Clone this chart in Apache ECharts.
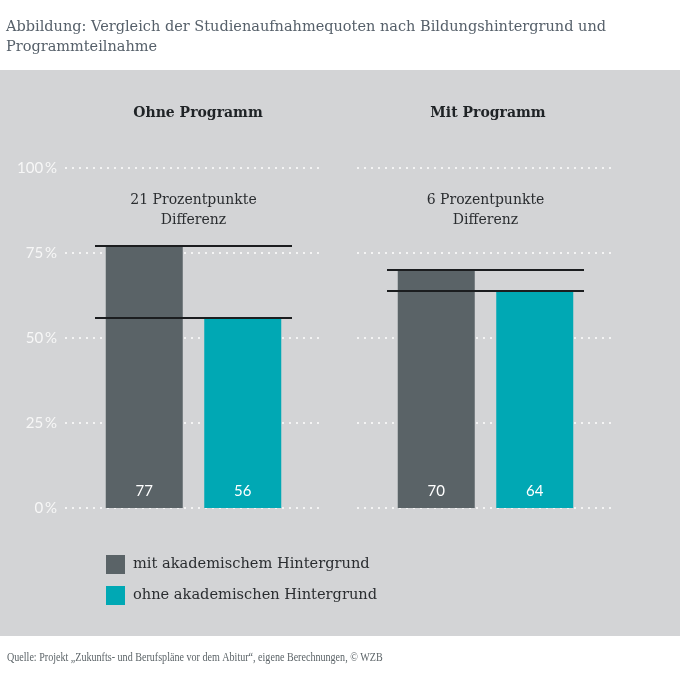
<!DOCTYPE html>
<html>
<head>
<meta charset="utf-8">
<script src="https://cdn.jsdelivr.net/npm/echarts@6/dist/echarts.min.js"></script>
<style>html,body{margin:0;padding:0;background:#fff}#c{width:680px;height:680px}</style>
</head>
<body>
<div id="c"></div>
<script>
const panels = ['Ohne Programm', 'Mit Programm'];
const categories = ['mit akademischem Hintergrund', 'ohne akademischen Hintergrund'];
const mitHintergrund = [77, 70];
const ohneHintergrund = [56, 64];
const yTickValues = [0, 25, 50, 75, 100];
const titleText = 'Abbildung: Vergleich der Studienaufnahmequoten nach Bildungshintergrund und\nProgrammteilnahme';
const sourceText = 'Quelle: Projekt \u201eZukunfts- und Berufspl\u00e4ne vor dem Abitur\u201c, eigene Berechnungen, \u00a9 WZB';

const colors = ['#5a6367', '#00a8b4'];
const serif = '"DejaVu Serif", serif';
const sans = 'Lato, "Open Sans", sans-serif';

const chart = echarts.init(document.getElementById('c'), null, {renderer: 'canvas'});

const layouts = [
  {gl: 65, gr: 680 - 323, bl: 95, br: 680 - 292, tx: 198},
  {gl: 357, gr: 680 - 613, bl: 387, br: 680 - 584, tx: 488}
];
const gridTop = 168, gridBottom = 680 - 508;

const grids = [], xAxes = [], yAxes = [], series = [], graphics = [];

graphics.push({type: 'rect', shape: {x: 0, y: 70, width: 680, height: 566}, style: {fill: '#d3d4d6'}, z: -10, silent: true});
graphics.push({type: 'text', left: 6, top: 17, style: {text: titleText, font: '14.5px ' + serif, fill: '#56606a', lineHeight: 20}});
graphics.push({type: 'text', x: 7, y: 658, scaleX: 0.84, style: {text: sourceText, font: '12px "Liberation Serif", serif', fill: '#5c6468', textVerticalAlign: 'middle'}});

panels.forEach((p, i) => {
  const L = layouts[i];
  grids.push({left: L.gl, right: L.gr, top: gridTop, bottom: gridBottom});
  xAxes.push({type: 'value', gridIndex: grids.length - 1, min: 0, max: 1, show: false});
  yAxes.push({
    type: 'value', gridIndex: grids.length - 1, min: yTickValues[0], max: yTickValues[yTickValues.length - 1], interval: 25,
    axisLine: {show: false}, axisTick: {show: false},
    axisLabel: {show: i === 0, formatter: '{value}\u2009%', color: '#f7f7f7', fontFamily: sans, fontSize: 15, margin: 8},
    splitLine: {show: true, lineStyle: {color: '#f4f4f4', width: 2, type: [2, 5]}}
  });
  grids.push({left: L.bl, right: L.br, top: gridTop, bottom: gridBottom});
  const gi = grids.length - 1;
  xAxes.push({type: 'category', gridIndex: gi, data: categories, show: false});
  yAxes.push({type: 'value', gridIndex: gi, min: 0, max: 100, show: false});
  const vals = [mitHintergrund[i], ohneHintergrund[i]];
  categories.forEach((c, k) => {
    const data = categories.map((_, j) => j === k ? vals[k] : null);
    series.push({
      type: 'bar', name: c, xAxisIndex: xAxes.length - 1, yAxisIndex: yAxes.length - 1,
      data: data, barWidth: 77, barGap: '-100%',
      itemStyle: {color: colors[k]},
      label: {show: true, position: 'insideBottom', distance: 9, color: '#ffffff', fontFamily: sans, fontSize: 15},
      markLine: {
        silent: true, symbol: 'none', z: 10,
        label: {show: false},
        lineStyle: {color: '#1b1d1f', width: 2, type: 'solid'},
        data: [{yAxis: vals[k]}]
      },
      z: 3
    });
  });
  const cx = (L.bl + (680 - L.br)) / 2;
  graphics.push({type: 'text', x: L.tx, y: 113, style: {text: p, font: 'bold 14px ' + serif, fill: '#1f2326', textAlign: 'center', textVerticalAlign: 'middle'}});
  graphics.push({type: 'text', x: cx, y: 210, style: {text: (vals[0] - vals[1]) + ' Prozentpunkte\nDifferenz', font: '14px ' + serif, fill: '#2a2d30', textAlign: 'center', textVerticalAlign: 'middle', lineHeight: 20}});
});

chart.setOption({
  backgroundColor: '#ffffff',
  animation: false,
  grid: grids,
  xAxis: xAxes,
  yAxis: yAxes,
  series: series,
  legend: {
    data: categories, orient: 'vertical', left: 106, top: 555, padding: 0,
    icon: 'rect', itemWidth: 19, itemHeight: 19, itemGap: 12,
    textStyle: {fontFamily: serif, fontSize: 14.6, color: '#2a2d30', padding: [0, 0, 0, 3]},
    selectedMode: false
  },
  graphic: graphics
});
</script>
</body>
</html>
